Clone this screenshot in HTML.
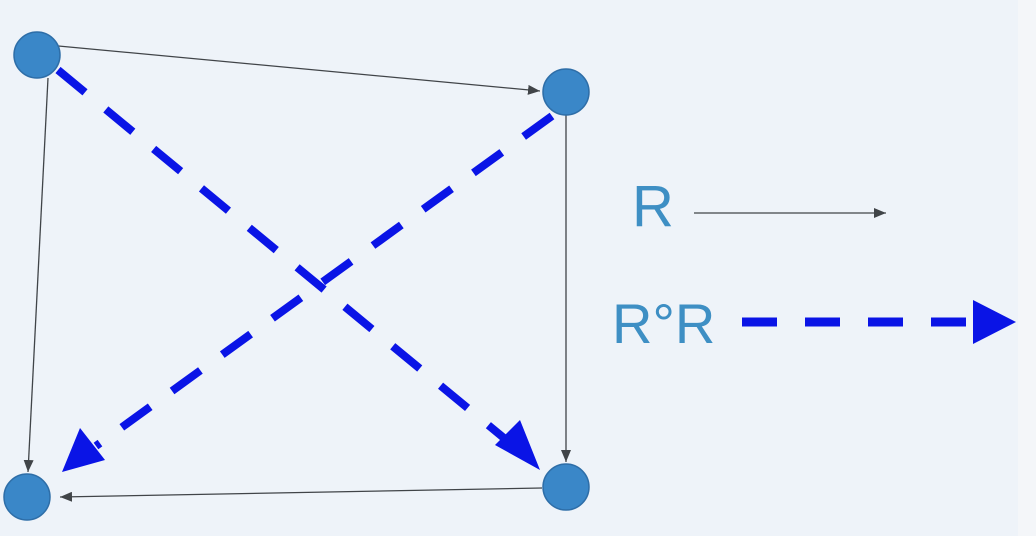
<!DOCTYPE html>
<html><head><meta charset="utf-8"><style>
html,body{margin:0;padding:0;background:#eef3f9;}
svg{display:block;}
text{font-family:"Liberation Sans",sans-serif;fill:#3e8fc4;}
</style></head><body>
<svg width="1036" height="536" viewBox="0 0 1036 536">
<defs>
<marker id="sa" markerWidth="12" markerHeight="10" refX="12" refY="5" orient="auto" markerUnits="userSpaceOnUse"><path d="M0,0 L12,5 L0,10 Z" fill="#404448"/></marker>
</defs>
<rect width="1036" height="536" fill="#eef3f9"/>
<rect x="1018" y="0" width="18" height="536" fill="#f4f6f9"/>
<g stroke="#404448" stroke-width="1.3" fill="none">
<line x1="37" y1="44" x2="540" y2="91" marker-end="url(#sa)"/>
<line x1="48" y1="78" x2="28" y2="472" marker-end="url(#sa)"/>
<line x1="566" y1="115" x2="566" y2="462" marker-end="url(#sa)"/>
<line x1="542" y1="488" x2="60" y2="497" marker-end="url(#sa)"/>
</g>
<g stroke="#0a14e6" stroke-width="8" fill="none" stroke-dasharray="35,27">
<line x1="58" y1="70" x2="510" y2="443"/>
<line x1="552" y1="116" x2="96" y2="446"/>
</g>
<polygon points="540,470 495,445 520,420" fill="#0a14e6"/>
<polygon points="62,472 80,428 105,460" fill="#0a14e6"/>
<g fill="#3a87c8" stroke="#2e6ea8" stroke-width="1.5">
<circle cx="37" cy="55" r="23"/>
<circle cx="566" cy="92" r="23"/>
<circle cx="566" cy="487" r="23"/>
<circle cx="27" cy="497" r="23"/>
</g>
<g>
<text x="632" y="226" font-size="58">R</text>
<line x1="694" y1="213" x2="886" y2="213" stroke="#404448" stroke-width="1.3" marker-end="url(#sa)"/>
<text x="612" y="343" font-size="56">R°R</text>
<line x1="742" y1="322" x2="975" y2="322" stroke="#0a14e6" stroke-width="9" stroke-dasharray="35,28"/>
<polygon points="973,300 1016,322 973,344" fill="#0a14e6"/>
</g>
</svg>
</body></html>
